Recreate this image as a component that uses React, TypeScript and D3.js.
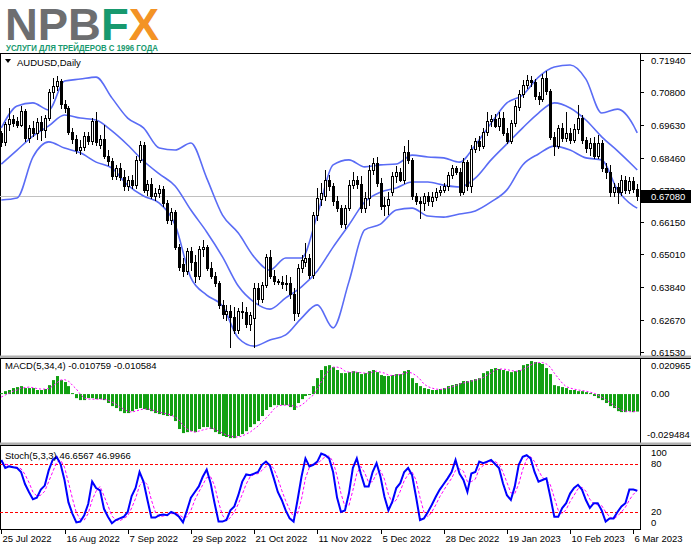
import React from "react";
import * as d3 from "d3";

// ---------- DATA ----------
const dateLabels = ["25 Jul 2022", "16 Aug 2022", "7 Sep 2022", "29 Sep 2022", "21 Oct 2022", "11 Nov 2022", "5 Dec 2022", "28 Dec 2022", "19 Jan 2023", "10 Feb 2023", "6 Mar 2023"];
const dateLabelBars = [0, 16, 32, 48, 64, 80, 96, 112, 128, 144, 160];
const priceTicks = ["0.71940", "0.70800", "0.69630", "0.68460", "0.67320", "0.66150", "0.65010", "0.63840", "0.62670", "0.61530"];
const macdTicks = ["0.020965", "0.00", "-0.029484"];
const stochTicks = ["100", "80", "20", "0"];
const stochLevels = [80, 20];
const symbolTitle = "AUDUSD,Daily";
const macdTitle = "MACD(5,34,4) -0.010759 -0.010584";
const stochTitle = "Stoch(5,3,3) 46.6567 46.9966";
const lastPrice = 0.6708;
const lastPriceLabel = "0.67080";

const opens = [
  .6934, .6902, .6966, .6984, .6977, .6962, .7012, .6916, .6952, .6934,
  .6973, .6945, .6987, .7080, .7101, .7119, .7037, .7023, .6937, .6912,
  .6873, .6884, .6923, .6905, .6977, .6891, .6912, .6852, .6834, .6780,
  .6809, .6777, .6745, .6766, .6748, .6838, .6891, .6731, .6752, .6709,
  .6720, .6734, .6684, .6624, .6652, .6527, .6467, .6442, .6513, .6474,
  .6424, .6520, .6527, .6452, .6424, .6399, .6321, .6289, .6299, .6278,
  .6232, .6299, .6296, .6253, .6274, .6381, .6342, .6392, .6492, .6424,
  .6406, .6403, .6395, .6399, .6360, .6292, .6452, .6474, .6488, .6427,
  .6641, .6698, .6709, .6766, .6745, .6691, .6666, .6609, .6666, .6748,
  .6766, .6752, .6666, .6702, .6802, .6827, .6756, .6674, .6677, .6723,
  .6780, .6795, .6766, .6866, .6838, .6709, .6691, .6684, .6709, .6691,
  .6706, .6723, .6731, .6745, .6784, .6809, .6795, .6723, .6830, .6745,
  .6877, .6905, .6887, .6937, .6977, .6984, .6959, .6987, .6934, .6905,
  .6969, .7026, .7073, .7105, .7123, .7115, .7066, .7055, .7130, .7083,
  .6920, .6887, .6952, .6916, .6934, .6909, .6948, .6987, .6909, .6880,
  .6898, .6852, .6898, .6809, .6795, .6723, .6741, .6723, .6766, .6731,
  .6763, .6734,
];
const highs = [
  .6941, .6973, .7023, .6998, .6991, .7030, .7019, .6962, .6977, .6987,
  .6995, .6998, .7090, .7130, .7137, .7126, .7051, .7030, .6952, .6927,
  .6909, .6937, .6937, .6987, .7009, .6927, .6962, .6873, .6845, .6820,
  .6827, .6802, .6780, .6784, .6852, .6905, .6902, .6766, .6773, .6738,
  .6748, .6745, .6695, .6666, .6659, .6538, .6488, .6524, .6527, .6499,
  .6531, .6552, .6534, .6474, .6438, .6406, .6338, .6321, .6321, .6314,
  .6310, .6331, .6314, .6296, .6399, .6399, .6403, .6502, .6517, .6445,
  .6413, .6424, .6427, .6420, .6381, .6467, .6499, .6542, .6502, .6652,
  .6738, .6756, .6802, .6784, .6756, .6709, .6677, .6677, .6766, .6795,
  .6780, .6780, .6723, .6820, .6845, .6848, .6773, .6706, .6723, .6795,
  .6816, .6809, .6887, .6909, .6845, .6720, .6706, .6720, .6723, .6723,
  .6738, .6745, .6756, .6795, .6820, .6816, .6809, .6845, .6838, .6891,
  .6916, .6923, .6952, .7009, .6998, .7002, .7009, .7009, .6952, .6980,
  .7051, .7087, .7123, .7141, .7137, .7126, .7080, .7144, .7155, .7090,
  .6937, .6962, .6969, .7009, .6952, .6966, .7034, .6998, .6920, .6916,
  .6920, .6927, .6909, .6827, .6820, .6756, .6756, .6784, .6780, .6777,
  .6777, .6752,
];
const lows = [
  .6887, .6891, .6945, .6959, .6955, .6959, .6905, .6902, .6923, .6912,
  .6909, .6920, .6980, .7058, .7087, .7023, .7009, .6930, .6898, .6862,
  .6859, .6873, .6895, .6895, .6891, .6880, .6845, .6820, .6770, .6770,
  .6766, .6731, .6731, .6738, .6738, .6830, .6723, .6713, .6702, .6695,
  .6706, .6674, .6613, .6609, .6520, .6445, .6424, .6431, .6445, .6403,
  .6413, .6495, .6445, .6417, .6388, .6310, .6274, .6267, .6171, .6221,
  .6221, .6274, .6242, .6232, .6171, .6324, .6331, .6385, .6417, .6395,
  .6395, .6381, .6374, .6346, .6267, .6282, .6438, .6460, .6417, .6417,
  .6624, .6677, .6695, .6731, .6677, .6655, .6598, .6595, .6659, .6738,
  .6738, .6652, .6652, .6677, .6788, .6745, .6663, .6641, .6645, .6713,
  .6759, .6763, .6756, .6827, .6698, .6681, .6631, .6659, .6677, .6674,
  .6695, .6713, .6723, .6731, .6773, .6788, .6713, .6716, .6731, .6723,
  .6866, .6873, .6880, .6927, .6959, .6955, .6945, .6927, .6898, .6898,
  .6959, .7016, .7062, .7094, .7101, .7055, .7037, .7048, .7073, .6912,
  .6855, .6880, .6905, .6905, .6898, .6902, .6934, .6898, .6866, .6855,
  .6845, .6845, .6798, .6773, .6709, .6709, .6684, .6713, .6720, .6720,
  .6723, .6695,
];
const closes = [
  .6902, .6966, .6984, .6969, .6962, .7012, .6916, .6952, .6934, .6973,
  .6945, .6987, .7080, .7101, .7119, .7037, .7023, .6937, .6912, .6873,
  .6884, .6923, .6905, .6977, .6902, .6912, .6852, .6834, .6780, .6809,
  .6777, .6745, .6766, .6748, .6838, .6891, .6731, .6752, .6709, .6720,
  .6734, .6684, .6624, .6652, .6527, .6456, .6442, .6513, .6474, .6424,
  .6520, .6527, .6452, .6424, .6399, .6321, .6289, .6299, .6278, .6232,
  .6299, .6296, .6253, .6285, .6381, .6342, .6392, .6492, .6424, .6406,
  .6403, .6395, .6399, .6360, .6292, .6452, .6481, .6488, .6427, .6641,
  .6702, .6720, .6766, .6745, .6691, .6666, .6609, .6666, .6748, .6766,
  .6752, .6666, .6702, .6802, .6827, .6756, .6674, .6677, .6698, .6780,
  .6795, .6766, .6866, .6838, .6709, .6691, .6684, .6709, .6691, .6706,
  .6723, .6731, .6745, .6784, .6809, .6795, .6723, .6830, .6745, .6877,
  .6905, .6887, .6937, .6977, .6984, .6959, .6987, .6934, .6905, .6969,
  .7030, .7073, .7105, .7123, .7115, .7066, .7055, .7130, .7083, .6920,
  .6887, .6952, .6916, .6934, .6909, .6948, .6987, .6909, .6880, .6898,
  .6852, .6898, .6809, .6795, .6723, .6741, .6723, .6766, .6731, .6763,
  .6734, .6708,
];

// Bollinger bands (20,2) sampled every 4 bars (last sample on the final bar)
const bbUpper = [
  .6952, .7030, .7041, .7016, .7119, .7126, .7133, .7059, .6987, .6952,
  .6880, .6873, .6898, .6773, .6641, .6577, .6492, .6445, .6488, .6488,
  .6641, .6820, .6838, .6813, .6820, .6823, .6855, .6848, .6845, .6830,
  .6891, .6969, .7041, .7069, .7133, .7169, .7176, .7126, .7005, .7019,
  .6962, .6934,
];
const bbMiddle = [
  .6823, .6873, .6923, .6959, .6998, .6987, .6980, .6941, .6891, .6834,
  .6788, .6745, .6659, .6581, .6492, .6388, .6331, .6306, .6346, .6385,
  .6442, .6527, .6606, .6688, .6723, .6738, .6759, .6759, .6748, .6741,
  .6773, .6838, .6895, .6952, .7005, .7041, .7023, .6980, .6920, .6870,
  .6816, .6802,
];
const bbLower = [
  .6695, .6702, .6848, .6902, .6880, .6863, .6830, .6809, .6748, .6709,
  .6684, .6606, .6417, .6356, .6317, .6203, .6174, .6196, .6214, .6274,
  .6321, .6239, .6403, .6588, .6609, .6659, .6666, .6638, .6634, .6645,
  .6656, .6688, .6731, .6820, .6859, .6887, .6873, .6845, .6838, .6731,
  .6674, .6666,
];

const macdMain = [
  .0006, .0018, .0025, .0037, .0043, .0049, .0037, .0037, .0037, .0025,
  .0025, .0031, .0055, .0086, .0111, .0086, .0074, .0049, .0006, -.0025,
  -.0037, -.0037, -.0025, -.0025, -.0031, -.0031, -.0037, -.0055, -.0074, -.0086,
  -.0105, -.0117, -.0117, -.0105, -.0092, -.0086, -.0092, -.0098, -.0105, -.0117,
  -.0123, -.0129, -.0135, -.0135, -.0166, -.0215, -.0240, -.0234, -.0228, -.0234,
  -.0215, -.0203, -.0203, -.0215, -.0234, -.0246, -.0258, -.0264, -.0271, -.0271,
  -.0258, -.0246, -.0228, -.0203, -.0185, -.0166, -.0135, -.0098, -.0080, -.0068,
  -.0068, -.0068, -.0068, -.0080, -.0098, -.0055, -.0031, -.0012, -.0006, .0049,
  .0098, .0148, .0172, .0178, .0166, .0148, .0129, .0129, .0135, .0141,
  .0135, .0123, .0129, .0141, .0148, .0135, .0117, .0111, .0111, .0117,
  .0123, .0123, .0141, .0148, .0098, .0068, .0049, .0037, .0031, .0025,
  .0025, .0031, .0037, .0049, .0055, .0062, .0068, .0080, .0080, .0086,
  .0092, .0098, .0129, .0141, .0154, .0160, .0154, .0148, .0141, .0135,
  .0141, .0148, .0178, .0185, .0203, .0197, .0191, .0185, .0160, .0123,
  .0055, .0049, .0043, .0037, .0025, .0025, .0018, .0018, .0012, .0006,
  -.0012, -.0025, -.0037, -.0055, -.0074, -.0086, -.0105, -.0111, -.0111, -.0105,
  -.0111, -.010759,
];
const macdSignal = [
  -.0018, -.0006, .0006, .0018, .0025, .0037, .0040, .0043, .0040, .0034,
  .0031, .0031, .0034, .0049, .0068, .0086, .0089, .0080, .0055, .0031,
  0, -.0025, -.0031, -.0031, -.0031, -.0031, -.0031, -.0037, -.0049, -.0062,
  -.0080, -.0092, -.0105, -.0111, -.0105, -.0098, -.0092, -.0092, -.0095, -.0105,
  -.0111, -.0117, -.0123, -.0129, -.0141, -.0160, -.0191, -.0215, -.0228, -.0234,
  -.0228, -.0221, -.0215, -.0209, -.0215, -.0228, -.0240, -.0252, -.0258, -.0264,
  -.0264, -.0258, -.0246, -.0234, -.0215, -.0197, -.0172, -.0148, -.0123, -.0092,
  -.0074, -.0068, -.0068, -.0068, -.0074, -.0080, -.0068, -.0049, -.0025, -.0006,
  .0031, .0074, .0117, .0148, .0166, .0166, .0160, .0141, .0135, .0135,
  .0135, .0132, .0129, .0129, .0135, .0141, .0135, .0129, .0117, .0114,
  .0117, .0120, .0126, .0135, .0129, .0114, .0092, .0062, .0046, .0037,
  .0031, .0028, .0031, .0037, .0043, .0052, .0062, .0068, .0074, .0080,
  .0086, .0092, .0101, .0117, .0129, .0148, .0154, .0154, .0151, .0145,
  .0141, .0141, .0151, .0163, .0178, .0191, .0194, .0194, .0185, .0166,
  .0129, .0098, .0068, .0046, .0037, .0031, .0025, .0022, .0018, .0012,
  .0006, -.0006, -.0018, -.0034, -.0049, -.0068, -.0086, -.0098, -.0105, -.0108,
  -.0108, -.010584,
];

const stochMain = [
  85, 75, 77, 76, 75, 70, 55, 45, 36, 38,
  48, 53, 72, 85, 89, 80, 60, 32, 18, 7,
  8, 16, 30, 58, 50, 47, 24, 14, 6, 10,
  12, 14, 20, 40, 50, 70, 58, 35, 13, 13,
  16, 17, 16, 20, 18, 14, 7, 22, 38, 45,
  52, 64, 73, 56, 31, 8, 8, 10, 22, 27,
  41, 58, 67, 66, 68, 70, 79, 83, 78, 62,
  45, 35, 22, 12, 8, 35, 64, 87, 77, 79,
  83, 93, 91, 87, 70, 38, 20, 22, 43, 75,
  87, 68, 52, 52, 70, 81, 64, 39, 22, 33,
  50, 56, 70, 75, 66, 39, 10, 12, 20, 29,
  39, 48, 55, 62, 70, 85, 68, 60, 45, 68,
  70, 83, 81, 83, 85, 80, 75, 56, 41, 35,
  52, 79, 89, 91, 87, 70, 58, 60, 62, 39,
  14, 14, 25, 31, 43, 50, 54, 48, 35, 25,
  31, 31, 22, 8, 12, 12, 20, 27, 31, 48,
  48, 46.6567,
];
const stochSignal = [
  83, 80, 78, 76, 76, 74, 67, 57, 45, 40,
  41, 46, 58, 70, 82, 85, 76, 57, 37, 19,
  11, 10, 18, 35, 46, 52, 40, 28, 15, 10,
  9, 12, 15, 25, 37, 53, 59, 54, 35, 20,
  14, 15, 16, 18, 18, 17, 13, 14, 22, 35,
  45, 54, 63, 64, 53, 32, 16, 9, 13, 20,
  30, 42, 55, 64, 67, 68, 72, 77, 80, 74,
  62, 47, 34, 23, 14, 18, 36, 62, 76, 81,
  80, 85, 89, 90, 83, 65, 43, 27, 28, 47,
  68, 77, 69, 57, 58, 68, 72, 61, 42, 31,
  35, 46, 59, 67, 70, 60, 38, 20, 14, 20,
  29, 39, 47, 55, 62, 72, 74, 71, 58, 58,
  61, 74, 78, 82, 83, 83, 80, 70, 57, 44,
  43, 55, 73, 86, 89, 83, 72, 63, 60, 54,
  38, 22, 18, 23, 33, 41, 49, 51, 46, 36,
  30, 29, 28, 20, 14, 11, 15, 20, 26, 35,
  42, 46.9966,
];

// ---------- LAYOUT ----------
const W = 691;
const H = 549;
const PLOT_R = 640;
const FONT = "'Liberation Sans', Arial, sans-serif";

export default function App() {
  const n = closes.length;
  const x = d3.scaleLinear().domain([0, n - 1]).range([1.3, 1.3 + 3.95 * (n - 1)]);
  const yP = d3.scaleLinear().domain([0.6153, 0.7194]).range([352, 60]);
  const yM = d3.scaleLinear().domain([-0.029484, 0.020965]).range([442, 360]);
  const yS = d3.scaleLinear().domain([0, 100]).range([528, 448]);

  const bbBars = d3.range(0, n - 1, 4).concat([n - 1]);
  const bandLine = (vals: number[]) =>
    d3.line<number>().x((_, k) => x(bbBars[k])).y((v) => yP(v)).curve(d3.curveMonotoneX)(vals) || "";
  const seriesLine = (vals: number[], ys: d3.ScaleLinear<number, number>) =>
    d3.line<number>().x((_, i) => x(i)).y((v) => ys(v))(vals) || "";

  const bbColor = "#5a6cf5";
  const txt = { fontFamily: FONT, fontSize: 9.5, fill: "#000" } as const;

  return (
    <svg width={W} height={H} style={{ position: "absolute", left: 0, top: 0, background: "#fff" }}>
      <defs>
        <clipPath id="cpMain"><rect x={0} y={54} width={PLOT_R} height={302} /></clipPath>
        <clipPath id="cpMacd"><rect x={0} y={359} width={PLOT_R} height={84} /></clipPath>
        <clipPath id="cpStoch"><rect x={0} y={446} width={PLOT_R} height={83} /></clipPath>
      </defs>
      <rect x={0} y={0} width={W} height={H} fill="#fff" />

      {/* Logo */}
      <text x={5} y={39.5} fontFamily="'Liberation Sans', Arial, sans-serif" fontWeight={700} fontSize={45} textLength={154} lengthAdjust="spacingAndGlyphs">
        <tspan fill="#6d6e70">NPB</tspan>
        <tspan fill="#17996e">F</tspan>
        <tspan fill="#f39325">X</tspan>
      </text>
      <text x={6} y={51} fontFamily="'Liberation Sans', Arial, sans-serif" fontWeight={700} fontSize={9.5} fill="#17996e" textLength={152} lengthAdjust="spacingAndGlyphs">
        УСЛУГИ ДЛЯ ТРЕЙДЕРОВ С 1996 ГОДА
      </text>

      {/* frames */}
      <line x1={0} x2={W} y1={53.5} y2={53.5} stroke="#000" />
      <line x1={0.5} x2={0.5} y1={53} y2={530} stroke="#000" />
      <line x1={PLOT_R + 0.5} x2={PLOT_R + 0.5} y1={53} y2={530} stroke="#000" />
      <rect x={0} y={355.5} width={W} height={3} fill="#b0b0b0" />
      <line x1={0} x2={W} y1={358.5} y2={358.5} stroke="#000" />
      <rect x={0} y={442.5} width={W} height={3} fill="#b0b0b0" />
      <line x1={0} x2={W} y1={445.5} y2={445.5} stroke="#000" />
      <line x1={0} x2={PLOT_R + 1} y1={529.5} y2={529.5} stroke="#000" />

      {/* main panel */}
      <g clipPath="url(#cpMain)">
        <line x1={0} x2={PLOT_R} y1={Math.round(yP(lastPrice)) + 0.5} y2={Math.round(yP(lastPrice)) + 0.5} stroke="#c0c0c0" />
        <path d={bandLine(bbUpper)} fill="none" stroke={bbColor} strokeWidth={1.6} />
        <path d={bandLine(bbMiddle)} fill="none" stroke={bbColor} strokeWidth={1.6} />
        <path d={bandLine(bbLower)} fill="none" stroke={bbColor} strokeWidth={1.6} />
        {closes.map((c, i) => {
          const px = Math.round(x(i));
          const o = opens[i];
          const top = Math.round(yP(Math.max(o, c)));
          const bot = Math.round(yP(Math.min(o, c)));
          const bull = c >= o;
          return (
            <g key={i}>
              <line x1={px + 0.5} x2={px + 0.5} y1={Math.round(yP(highs[i]))} y2={Math.round(yP(lows[i])) + 1} stroke="#000" />
              <rect x={px - 0.5} y={top + 0.5} width={2} height={Math.max(bot - top, 0)} fill={bull ? "#fff" : "#000"} stroke="#000" />
            </g>
          );
        })}
      </g>
      <path d="M5,59 L11,59 L8,63 Z" fill="#000" />
      <text x={17} y={66} {...txt}>{symbolTitle}</text>

      {/* price axis */}
      {priceTicks.map((t) => {
        const yy = Math.round(yP(+t)) + 0.5;
        return (
          <g key={t}>
            <line x1={PLOT_R} x2={PLOT_R + 4} y1={yy} y2={yy} stroke="#000" />
            <text x={651} y={yy} dy="0.35em" {...txt}>{t}</text>
          </g>
        );
      })}
      <rect x={641} y={Math.round(yP(lastPrice)) - 6} width={50} height={13} fill="#000" />
      <text x={651} y={Math.round(yP(lastPrice)) + 0.5} dy="0.35em" {...txt} fill="#fff">{lastPriceLabel}</text>

      {/* MACD panel */}
      <g clipPath="url(#cpMacd)">
        {macdMain.map((v, i) => {
          const px = Math.round(x(i));
          const y0 = yM(0);
          const y1 = yM(v);
          return <rect key={i} x={px - 1} y={Math.min(y0, y1)} width={3} height={Math.abs(y1 - y0)} fill="#12a012" />;
        })}
        <path d={seriesLine(macdSignal, yM)} fill="none" stroke="#ff00ff" strokeWidth={1} strokeDasharray="2,2" />
      </g>
      <text x={5} y={366} dy="0.35em" {...txt}>{macdTitle}</text>
      {macdTicks.map((t, k) => {
        const yy = [365.5, 394, 435][k];
        return <text key={t} x={t.startsWith("-") ? 647 : 651} y={yy} dy="0.35em" {...txt}>{t}</text>;
      })}

      {/* Stoch panel */}
      <g clipPath="url(#cpStoch)">
        {stochLevels.map((lv) => (
          <line key={lv} x1={0} x2={PLOT_R} y1={Math.round(yS(lv)) + 0.5} y2={Math.round(yS(lv)) + 0.5} stroke="#ff0000" strokeDasharray="3,2" />
        ))}
        <path d={seriesLine(stochSignal, yS)} fill="none" stroke="#ff00ff" strokeWidth={1} strokeDasharray="3,2" />
        <path d={seriesLine(stochMain, yS)} fill="none" stroke="#0000ff" strokeWidth={2} />
      </g>
      <text x={5} y={456} dy="0.35em" {...txt}>{stochTitle}</text>
      {stochTicks.map((t) => {
        const v = +t;
        const yy = v === 100 ? 453 : v === 0 ? 523 : yS(v);
        return <text key={t} x={651} y={yy} dy="0.35em" {...txt}>{t}</text>;
      })}

      {/* time axis */}
      {dateLabelBars.map((b, k) => {
        const px = Math.round(x(b)) + 0.5;
        return (
          <g key={k}>
            <line x1={px} x2={px} y1={530} y2={534} stroke="#000" />
            <text x={px + 1} y={538.5} dy="0.35em" {...txt}>{dateLabels[k]}</text>
          </g>
        );
      })}
    </svg>
  );
}
